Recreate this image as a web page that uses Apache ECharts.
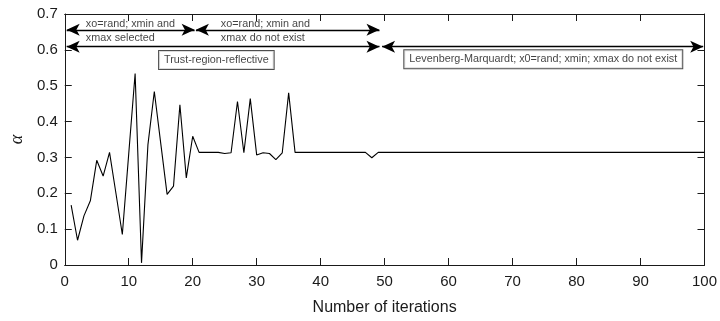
<!DOCTYPE html>
<html>
<head>
<meta charset="utf-8">
<script src="https://cdn.jsdelivr.net/npm/echarts@6/dist/echarts.min.js"></script>
<style>
  html, body { margin: 0; padding: 0; background: #fff; }
  #chart { width: 720px; height: 321px; }
</style>
</head>
<body>
<div id="chart"></div>
<script>
// Iteration index and the alpha value found at each iteration
const iterations = Array.from({ length: 100 }, (_, k) => k + 1);
const alphaValues = [
  0.167, 0.069, 0.137, 0.179, 0.292, 0.248, 0.314, 0.200, 0.085, 0.310,
  0.534, 0.006, 0.335, 0.484, 0.340, 0.197, 0.220, 0.447, 0.243, 0.359,
  0.314, 0.314, 0.314, 0.314, 0.311, 0.313, 0.456, 0.313, 0.464, 0.307,
  0.313, 0.311, 0.294, 0.313, 0.480, 0.314, 0.314, 0.314, 0.314, 0.314,
  0.314, 0.314, 0.314, 0.314, 0.314, 0.314, 0.314, 0.299, 0.314, 0.314,
  0.314, 0.314, 0.314, 0.314, 0.314, 0.314, 0.314, 0.314, 0.314, 0.314,
  0.314, 0.314, 0.314, 0.314, 0.314, 0.314, 0.314, 0.314, 0.314, 0.314,
  0.314, 0.314, 0.314, 0.314, 0.314, 0.314, 0.314, 0.314, 0.314, 0.314,
  0.314, 0.314, 0.314, 0.314, 0.314, 0.314, 0.314, 0.314, 0.314, 0.314,
  0.314, 0.314, 0.314, 0.314, 0.314, 0.314, 0.314, 0.314, 0.314, 0.314
];

// Axis ranges
const xRange = { min: 0, max: 100, step: 10 };
const yRange = { min: 0, max: 0.7, step: 0.1 };

// Phase spans (start iteration, end iteration, alpha level of the arrow)
const phaseArrows = [
  [0.3, 20.3, 0.656],
  [20.5, 49.2, 0.656],
  [0.3, 49.2, 0.609],
  [49.6, 99.8, 0.609]
];

// Plain captions next to the arrows: [iteration, alpha, text]
const captions = [
  [3.3, 0.672, 'xo=rand; xmin and'],
  [3.3, 0.633, 'xmax selected'],
  [24.4, 0.672, 'xo=rand; xmin and'],
  [24.4, 0.633, 'xmax do not exist']
];

// Boxed method labels: [iteration, alpha, text]
const methodBoxes = [
  [23.7, 0.572, 'Trust-region-reflective'],
  [74.8, 0.574, 'Levenberg-Marquardt; x0=rand; xmin; xmax do not exist']
];

const FONT = "'Liberation Sans', Arial, Helvetica, sans-serif";
const INK = '#1a1a1a';

const chart = echarts.init(document.getElementById('chart'), null, { renderer: 'canvas' });

const baseX = {
  type: 'value', min: xRange.min, max: xRange.max, interval: xRange.step,
  splitLine: { show: false },
  axisLine: { show: true, onZero: false, lineStyle: { color: INK, width: 1 } },
  axisTick: { show: true, inside: true, length: 7, lineStyle: { color: INK, width: 1 } }
};
const baseY = {
  type: 'value', min: yRange.min, max: yRange.max, interval: yRange.step,
  splitLine: { show: false },
  axisLine: { show: true, onZero: false, lineStyle: { color: INK, width: 1 } },
  axisTick: { show: true, inside: true, length: 7, lineStyle: { color: INK, width: 1 } }
};

chart.setOption({
  animation: false,
  backgroundColor: '#fff',
  grid: { left: 62, right: 13, top: 14, bottom: 55, containLabel: false },
  xAxis: [
    Object.assign({}, baseX, {
      position: 'bottom',
      name: 'Number of iterations',
      nameLocation: 'middle',
      nameGap: 35,
      nameTextStyle: { fontFamily: FONT, fontSize: 16, color: INK },
      axisLabel: { show: true, margin: 9, fontFamily: FONT, fontSize: 15, color: INK }
    }),
    Object.assign({}, baseX, { position: 'top', axisLabel: { show: false } })
  ],
  yAxis: [
    Object.assign({}, baseY, {
      position: 'left',
      name: 'α',
      nameLocation: 'middle',
      nameGap: 34,
      nameRotate: 90,
      nameTextStyle: { fontFamily: "'Liberation Serif', 'Times New Roman', serif", fontStyle: 'italic', fontSize: 18, color: INK },
      axisLabel: { show: true, margin: 7, fontFamily: FONT, fontSize: 15, color: INK }
    }),
    Object.assign({}, baseY, { position: 'right', axisLabel: { show: false } })
  ],
  series: [
    {
      type: 'line',
      data: iterations.map((it, k) => [it, alphaValues[k]]),
      showSymbol: false,
      symbol: 'none',
      lineStyle: { color: '#000', width: 1.1 },
      z: 3,
      markLine: {
        silent: true,
        symbol: ['arrow', 'arrow'],
        symbolSize: [9, 13],
        label: { show: false },
        lineStyle: { color: '#000', width: 1.4, type: 'solid' },
        data: phaseArrows.map(([a, b, lvl]) => [
          { coord: [a, lvl] },
          { coord: [b, lvl] }
        ])
      }
    },
    {
      type: 'scatter',
      symbolSize: 0,
      data: captions.map(([x, y, t]) => ({ value: [x, y], name: t })),
      label: {
        show: true, position: 'right', distance: 0,
        formatter: p => p.name,
        fontFamily: FONT, fontSize: 10.8, color: '#111'
      },
      z: 4
    },
    {
      type: 'scatter',
      symbolSize: 0,
      data: methodBoxes.map(([x, y, t]) => ({ value: [x, y], name: t })),
      label: {
        show: true, position: 'inside',
        formatter: p => p.name,
        fontFamily: FONT, fontSize: 10.8, color: '#111',
        backgroundColor: '#fff',
        borderColor: '#222', borderWidth: 1,
        padding: [4, 5, 3, 5]
      },
      z: 4
    }
  ]
});
</script>
</body>
</html>
